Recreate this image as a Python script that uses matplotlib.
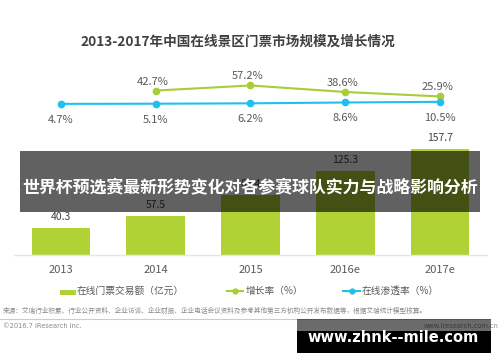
import matplotlib
matplotlib.use('Agg')
import matplotlib.pyplot as plt
from matplotlib.patches import Rectangle
from matplotlib.lines import Line2D

plt.rcParams['font.family'] = ['Noto Sans CJK SC', 'DejaVu Sans']

# ---- data ----
years = ['2013', '2014', '2015', '2016e', '2017e']
volume = [40.3, 57.5, 89.4, 125.3, 157.7]          # 在线门票交易额（亿元）
growth_years = ['2014', '2015', '2016e', '2017e']
growth = [42.7, 57.2, 38.6, 25.9]                   # 增长率（%）
penetration = [4.7, 5.1, 6.2, 8.6, 10.5]            # 在线渗透率（%）

title = '2013-2017年中国在线景区门票市场规模及增长情况'
banner = '世界杯预选赛最新形势变化对各参赛球队实力与战略影响分析'
legend_labels = ['在线门票交易额（亿元）', '增长率（%）', '在线渗透率（%）']
source = ('来源：艾瑞行业积累、行业公开资料、企业访谈、企业财报、企业电话会议资料及参考其他第三方机构公开发布数据等，'
          '根据艾瑞统计模型核算。')
copyright_txt = '©2016.7 iResearch Inc.'
site_txt = 'www.iresearch.com.cn'
watermark = 'www.zhnk--mile.com'

BAR = '#b0d235'
GREEN = '#a9cd38'
CYAN = '#1fc0ee'
TXT = '#595959'

W, H = 500, 362
fig = plt.figure(figsize=(W / 100, H / 100), dpi=100)


def fx(px):
    return px / W


def fy(py):
    return 1 - py / H


# main axes: baseline at y=255 px, top at y=20 px
ax = fig.add_axes([fx(13.6), fy(255), 473.8 / W, 235 / H])
xs = list(range(len(years)))
ax.bar(xs, volume, width=0.62, color=BAR, zorder=2)
ax.set_xlim(-0.5, 4.5)
ax.set_ylim(0, 235 / 0.672)
for s in ['top', 'left', 'right']:
    ax.spines[s].set_visible(False)
ax.spines['bottom'].set_color('#e6e6e6')
ax.spines['bottom'].set_linewidth(1.0)
ax.set_yticks([])
ax.set_xticks(xs)
ax.set_xticklabels(years, fontsize=8, color=TXT)
ax.tick_params(axis='x', length=0, pad=7.5)
for x, v in zip(xs, volume):
    ax.annotate(f'{v}', (x, v), xytext=(0, 8), textcoords='offset points',
                ha='center', va='center', fontsize=7.5, color='#404040')

ax2 = ax.twinx()
ax2.set_ylim((0 - 149.5) / 0.35, (235 - 149.5) / 0.35)
ax2.set_yticks([])
for s in ax2.spines.values():
    s.set_visible(False)
gx = [years.index(y) for y in growth_years]
ax2.plot(gx, growth, color=GREEN, lw=1.5, marker='o', ms=4.5, zorder=3)
ax2.plot(xs, penetration, color=CYAN, lw=1.5, marker='o', ms=4.5, zorder=3)
for x, v in zip(gx, growth):
    ax2.annotate(f'{v}%', (x, v), xytext=(-2, 6.5), textcoords='offset points',
                 ha='center', va='center', fontsize=8, color=TXT)
for x, v in zip(xs, penetration):
    ax2.annotate(f'{v}%', (x, v), xytext=(0, -11.5), textcoords='offset points',
                 ha='center', va='center', fontsize=8, color=TXT)

# title
fig.text(fx(238), fy(42), title, ha='center', va='center', fontsize=9.8,
         fontweight='bold', color='#404040')

# legend (manual)
fig.add_artist(Rectangle((fx(60), fy(295)), 16 / W, 5 / H, transform=fig.transFigure,
                         color=BAR, lw=0))
fig.text(fx(77), fy(291), legend_labels[0], ha='left', va='center', fontsize=7, color=TXT)
fig.add_artist(Line2D([fx(227), fx(235), fx(243)], [fy(291)] * 3, transform=fig.transFigure,
                      color=GREEN, lw=1.5, marker='o', ms=3.5, markevery=[1]))
fig.text(fx(246), fy(291), legend_labels[1], ha='left', va='center', fontsize=7, color=TXT)
fig.add_artist(Line2D([fx(343), fx(351.5), fx(360)], [fy(291)] * 3, transform=fig.transFigure,
                      color=CYAN, lw=1.5, marker='o', ms=3.5, markevery=[1]))
fig.text(fx(362), fy(291), legend_labels[2], ha='left', va='center', fontsize=7, color=TXT)

# footer
fig.text(fx(3), fy(311), source, ha='left', va='center', fontsize=4.8, color='#8a8a8a')
fig.add_artist(Line2D([0, fx(490)], [fy(319)] * 2, transform=fig.transFigure,
                      color='#cccccc', lw=0.8))
fig.text(fx(3), fy(326), copyright_txt, ha='left', va='center', fontsize=4.8,
         color='#8a8a8a', family='DejaVu Sans')
fig.text(fx(499), fy(326), site_txt, ha='right', va='center', fontsize=4.8,
         color='#8a8a8a', family='DejaVu Sans')

# overlay banner
fig.add_artist(Rectangle((fx(20), fy(212)), 460 / W, 61 / H, transform=fig.transFigure,
                         color='black', alpha=0.62, lw=0, zorder=10))
fig.text(fx(250), fy(187), banner, ha='center', va='center', fontsize=12.2,
         fontweight='bold', color='white', zorder=11)

# watermark box
fig.add_artist(Rectangle((fx(297), fy(331)), 194 / W, 12 / H, transform=fig.transFigure,
                         color='black', alpha=0.58, lw=0, zorder=10))
fig.add_artist(Rectangle((fx(297), fy(353)), 194 / W, 22 / H, transform=fig.transFigure,
                         color='black', lw=0, zorder=10))
fig.text(fx(393), fy(337), watermark, ha='center', va='center', fontsize=10.5,
         fontweight='bold', color='white', family='DejaVu Sans', zorder=11)

fig.savefig('out.png', dpi=100)
